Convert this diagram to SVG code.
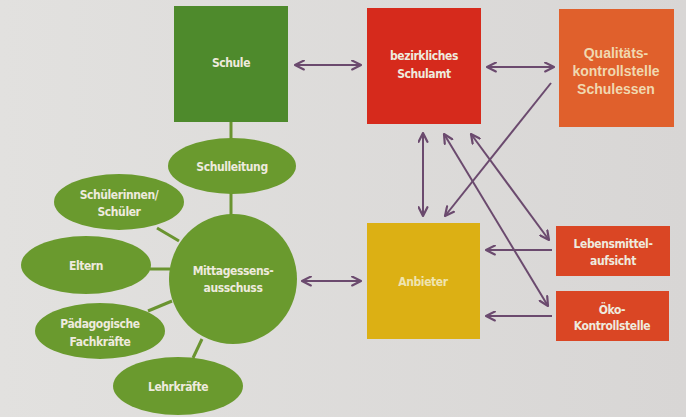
<svg xmlns="http://www.w3.org/2000/svg" width="686" height="417" viewBox="0 0 686 417">
<defs>
<linearGradient id="bg" x1="0" y1="0" x2="1" y2="0">
<stop offset="0" stop-color="#e2e1df"/>
<stop offset="1" stop-color="#d8d6d5"/>
</linearGradient>
<marker id="ah" viewBox="0 0 10 10" refX="9" refY="5" markerWidth="11" markerHeight="11" markerUnits="userSpaceOnUse" orient="auto-start-reverse">
<path d="M1,1 L9,5 L1,9" fill="none" stroke="#6b4a6e" stroke-width="2" stroke-linecap="round" stroke-linejoin="round"/>
</marker>
<style>
.arr{stroke:#6b4a6e;stroke-width:2;fill:none}
.both{marker-start:url(#ah);marker-end:url(#ah)}
.one{marker-end:url(#ah)}
.gl{stroke:#6a9430;stroke-width:3;fill:none}
.ell{fill:#6a9a2e}
.t{font-family:"Liberation Sans Narrow","DejaVu Sans Condensed","Liberation Sans",sans-serif;font-weight:bold;font-size:12px;letter-spacing:-0.4px;fill:#eeeade;text-anchor:middle}
.tq{font-family:"Liberation Sans",Arial,sans-serif;font-weight:bold;font-size:14px;fill:#f0d8b0;text-anchor:middle}
</style>
</defs>
<rect width="686" height="417" fill="url(#bg)"/>
<g id="connectors">
<line class="gl" x1="231" y1="122" x2="231" y2="139"/>
<line class="gl" x1="231" y1="193" x2="231" y2="215"/>
<line class="gl" x1="157" y1="228" x2="179" y2="241"/>
<line class="gl" x1="150" y1="269" x2="170" y2="269"/>
<line class="gl" x1="148" y1="311" x2="172" y2="301"/>
<line class="gl" x1="193" y1="358" x2="202" y2="339"/>
<line class="arr both" x1="295" y1="65" x2="361" y2="65"/>
<line class="arr both" x1="487" y1="67" x2="554" y2="67"/>
<line class="arr both" x1="423" y1="133" x2="423" y2="216"/>
<line class="arr one" x1="551" y1="83" x2="445" y2="216"/>
<line class="arr both" x1="444" y1="134" x2="548" y2="306"/>
<line class="arr both" x1="471" y1="134" x2="549" y2="240"/>
<line class="arr both" x1="302" y1="281" x2="361" y2="281"/>
<line class="arr one" x1="552" y1="250" x2="486" y2="250"/>
<line class="arr one" x1="552" y1="316" x2="486" y2="316"/>
</g>
<g id="schule">
<rect x="174" y="6" width="114" height="116" fill="#4e8a2c"/>
<text class="t" x="231" y="67">Schule</text>
</g>
<g id="schulamt">
<rect x="367" y="8" width="114" height="116" fill="#d62a1c"/>
<text class="t" x="424" y="60">bezirkliches</text>
<text class="t" x="424" y="78">Schulamt</text>
</g>
<g id="qualitaet">
<rect x="559" y="9" width="115" height="118" fill="#e0602c"/>
<text class="tq" x="616" y="58">Qualitäts-</text>
<text class="tq" x="616" y="76">kontrollstelle</text>
<text class="tq" x="616" y="94">Schulessen</text>
</g>
<g id="schulleitung">
<ellipse class="ell" cx="232" cy="166" rx="64" ry="28"/>
<text class="t" x="232" y="171">Schulleitung</text>
</g>
<g id="schueler">
<ellipse class="ell" cx="119" cy="202" rx="65" ry="28"/>
<text class="t" x="119" y="199">Schülerinnen/</text>
<text class="t" x="119" y="216">Schüler</text>
</g>
<g id="eltern">
<ellipse class="ell" cx="86" cy="265" rx="65" ry="29"/>
<text class="t" x="86" y="270">Eltern</text>
</g>
<g id="paedagogische">
<ellipse class="ell" cx="100" cy="331" rx="65" ry="28"/>
<text class="t" x="100" y="328">Pädagogische</text>
<text class="t" x="100" y="346">Fachkräfte</text>
</g>
<g id="lehrkraefte">
<ellipse class="ell" cx="178" cy="386" rx="65" ry="29"/>
<text class="t" x="178" y="391">Lehrkräfte</text>
</g>
<g id="mittagessen">
<ellipse class="ell" cx="233" cy="279" rx="64" ry="65"/>
<text class="t" x="233" y="275">Mittagessens-</text>
<text class="t" x="233" y="292">ausschuss</text>
</g>
<g id="anbieter">
<rect x="367" y="223" width="113" height="116" fill="#dcb014"/>
<text class="t" x="423" y="286" style="fill:#efe4b0">Anbieter</text>
</g>
<g id="lebensmittel">
<rect x="556" y="226" width="114" height="50" fill="#da4624"/>
<text class="t" x="613" y="248">Lebensmittel-</text>
<text class="t" x="613" y="265">aufsicht</text>
</g>
<g id="oeko">
<rect x="556" y="291" width="113" height="50" fill="#da4624"/>
<text class="t" x="612" y="314">Öko-</text>
<text class="t" x="612" y="330">Kontrollstelle</text>
</g>
</svg>
